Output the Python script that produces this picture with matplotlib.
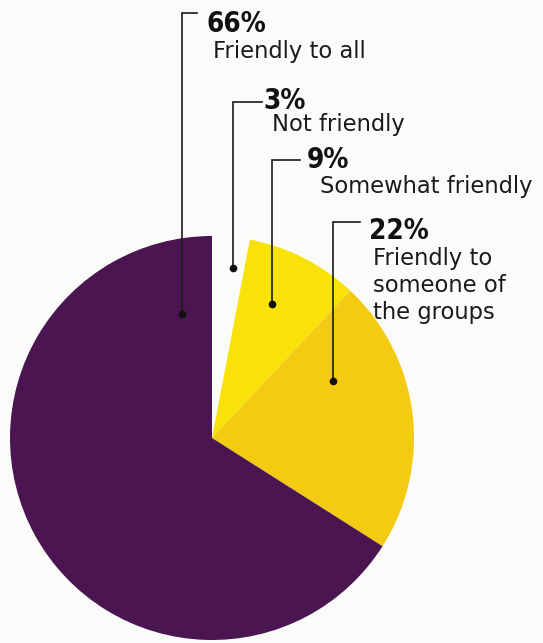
import matplotlib.pyplot as plt

# data
labels = ["Not friendly", "Somewhat friendly", "Friendly to\nsomeone of\nthe groups", "Friendly to all"]
pct = [3, 9, 22, 66]
colors = ["#fbfbf9", "#f8e20a", "#f3cb12", "#4a1551"]

# leader geometry (pixel coords, y down): dot, elbow y, elbow end x, text baselines
dots = [(233, 268), (272, 304), (333, 381), (182, 314)]
tops = [102, 160, 222, 13]
ends = [262, 300, 360, 197]
pct_pos = [(263, 109), (307, 168), (369, 239), (206, 32)]
lab_pos = [(272, 131), (320, 193), (373, 265), (213, 58)]

W, H = 543, 643
fig = plt.figure(figsize=(W / 100, H / 100), dpi=100)
fig.patch.set_facecolor("#fbfbf9")
ax = fig.add_axes([0, 0, 1, 1])

ax.pie(pct, colors=colors, startangle=90, counterclock=False,
       center=(212, H - 438), radius=202, frame=True,
       wedgeprops=dict(linewidth=0))
ax.set_xlim(0, W)
ax.set_ylim(0, H)
ax.axis("off")

for (dx, dy), top, ex, (px, py), (lx, ly), p, lab in zip(dots, tops, ends, pct_pos, lab_pos, pct, labels):
    ax.plot([dx, dx, ex], [H - dy, H - top, H - top],
            color="#1a1a1a", lw=1.2, solid_joinstyle="miter")
    ax.plot(dx, H - dy, "o", color="#111111", ms=4.5)
    ax.text(px, H - py, f"{p}%", fontsize=20, fontweight="heavy", fontstretch="condensed",
            family="DejaVu Sans", color="#111111", va="baseline", ha="left")
    for i, line in enumerate(lab.split("\n")):
        ax.text(lx, H - ly - 27 * i, line, fontsize=16.3, family="DejaVu Sans",
                color="#1a1a1a", va="baseline", ha="left")

fig.savefig("out.png", dpi=100, facecolor=fig.get_facecolor())
